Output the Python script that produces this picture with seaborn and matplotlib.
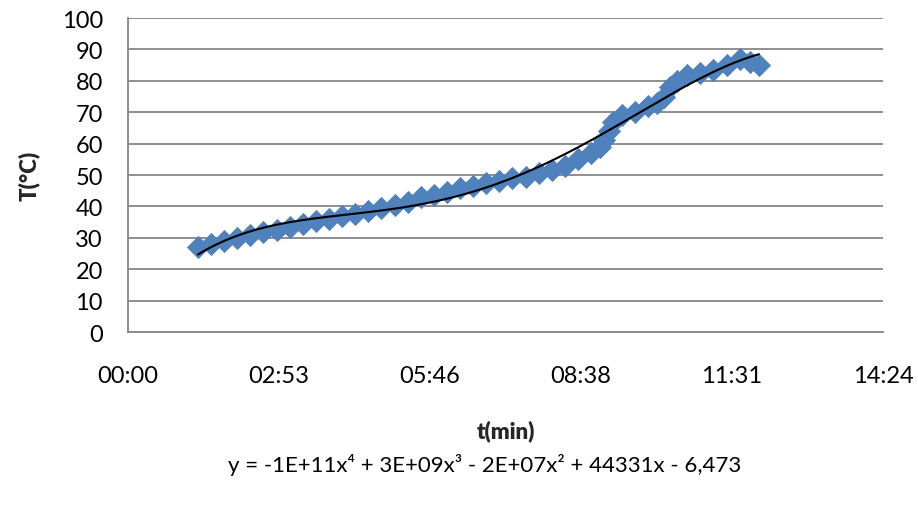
import numpy as np
import pandas as pd
import matplotlib
matplotlib.use('Agg')
import matplotlib.pyplot as plt
import seaborn as sns

# measured samples: time in seconds, temperature in degC
time_s = [80, 95, 110, 125, 140, 155, 170, 185, 200, 215, 230, 245, 260, 275,
          290, 305, 320, 335, 350, 365, 380, 395, 410, 425, 440, 455, 470, 485,
          500, 515, 530, 540, 545, 550, 555, 565, 580, 595, 605, 613, 620, 628,
          640, 655, 670, 685, 700, 712, 722]
temp_c = [27, 28, 29, 30, 31, 32, 32.5, 33.5, 34.5, 35.5, 36, 37, 37.5, 38.5,
          39.5, 40.5, 41.5, 43, 43.5, 44.5, 46, 46.5, 47.5, 48, 49, 49.5, 50.5, 51.5,
          53, 55, 57, 59, 61, 64, 67, 69, 70, 72, 73, 75, 78, 80,
          82, 82.5, 83.5, 85, 87, 86, 85]

x_ticks = [0, 172.8, 345.6, 518.4, 691.2, 864]
x_labels = ['00:00', '02:53', '05:46', '08:38', '11:31', '14:24']
y_ticks = list(range(0, 101, 10))
equation = 'y = -1E+11x\u2074 + 3E+09x\u00b3 - 2E+07x\u00b2 + 44331x - 6,473'

df = pd.DataFrame({'t': time_s, 'T': temp_c})

sns.set_theme(style='white')
plt.rcParams['font.family'] = ['Lato', 'DejaVu Sans']

fig = plt.figure(figsize=(9.18, 5.10), dpi=100)
ax = fig.add_axes([0.1394, 0.347, 0.8225, 0.6157])

sns.scatterplot(data=df, x='t', y='T', marker='D', s=140, color='#4F81BD',
                edgecolor='#4F81BD', linewidth=0, ax=ax, zorder=3)

# 4th order polynomial trendline like excel
coef = np.polyfit(df['t'], df['T'], 4)
tt = np.linspace(df['t'].min(), df['t'].max(), 300)
ax.plot(tt, np.polyval(coef, tt), color='black', lw=1.5, zorder=4)

ax.set_xlim(0, 864)
ax.set_ylim(0, 100)
ax.set_xticks(x_ticks)
ax.set_xticklabels(x_labels)
ax.set_yticks(y_ticks)
ax.tick_params(axis='x', length=0, pad=24, labelsize=17, colors='black')
ax.tick_params(axis='y', length=0, pad=18, labelsize=17, colors='black')
ax.grid(axis='y', color='#868686', lw=1.3)
ax.set_axisbelow(True)
for side in ['top', 'right']:
    ax.spines[side].set_visible(False)
for side in ['left', 'bottom']:
    ax.spines[side].set_color('#868686')
    ax.spines[side].set_linewidth(1.3)

ax.set_xlabel('t(min)', fontsize=16, fontweight='heavy', labelpad=24)
ax.set_ylabel('T(\u00b0C)', fontsize=16, fontweight='heavy', labelpad=16)
fig.text(0.528, 0.088, equation, ha='center', va='center', fontsize=16,
         color='black')

fig.savefig('out.png', dpi=100)
